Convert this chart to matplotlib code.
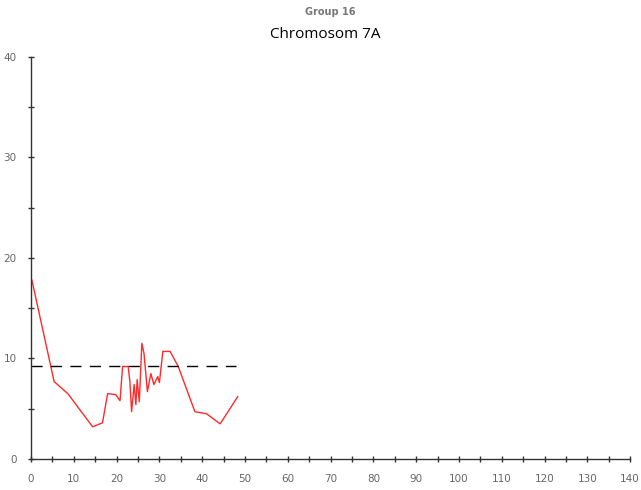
import numpy as np
import matplotlib.pyplot as plt
from matplotlib.ticker import MultipleLocator

# LOD profile
pos = [0.2, 5.4, 8.6, 14.4, 16.7, 17.9, 19.8, 20.8, 21.4, 22.7, 23.1, 23.5, 24.1,
       24.5, 24.8, 25.3, 25.9, 26.4, 27.2, 28.0, 28.7, 29.6, 30.0, 30.8, 32.5,
       34.4, 38.3, 41.0, 44.2, 48.3]
lod = [17.8, 7.7, 6.5, 3.2, 3.6, 6.5, 6.4, 5.8, 9.2, 9.2, 7.7, 4.7, 7.4,
       5.4, 7.9, 5.7, 11.5, 10.5, 6.7, 8.5, 7.4, 8.2, 7.6, 10.7, 10.7,
       9.2, 4.7, 4.5, 3.5, 6.2]
threshold = 9.25
thr_span = [0, 48]

fig = plt.figure(figsize=(6.41, 4.90), dpi=100)
ax = fig.add_axes([0.0484, 0.0633, 0.9346, 0.8207])

ax.plot(pos, lod, color='#ff2a2a', linewidth=1.0)
ax.plot(thr_span, [threshold, threshold], color='black', linewidth=1.0, dashes=(8, 6))

ax.set_xlim(0, 140)
ax.set_ylim(0, 40)
for s in ['top', 'right']:
    ax.spines[s].set_visible(False)
for s in ['left', 'bottom']:
    ax.spines[s].set_color('#333333')
    ax.spines[s].set_linewidth(1.0)

ax.xaxis.set_major_locator(MultipleLocator(10))
ax.xaxis.set_minor_locator(MultipleLocator(5))
ax.yaxis.set_major_locator(MultipleLocator(10))
ax.yaxis.set_minor_locator(MultipleLocator(5))
ax.tick_params(which='both', direction='inout', length=5, width=1, color='#333333')
ax.tick_params(which='major', labelsize=7.5, labelcolor='#666666', pad=8)

fig.text(0.515, 0.985, 'Group 16', ha='center', va='top', fontsize=7,
         fontweight='bold', color='#777777')
fig.text(0.507, 0.945, 'Chromosom 7A', ha='center', va='top', fontsize=11,
         family='Open Sans', color='black')

fig.savefig('out.png', dpi=100)
